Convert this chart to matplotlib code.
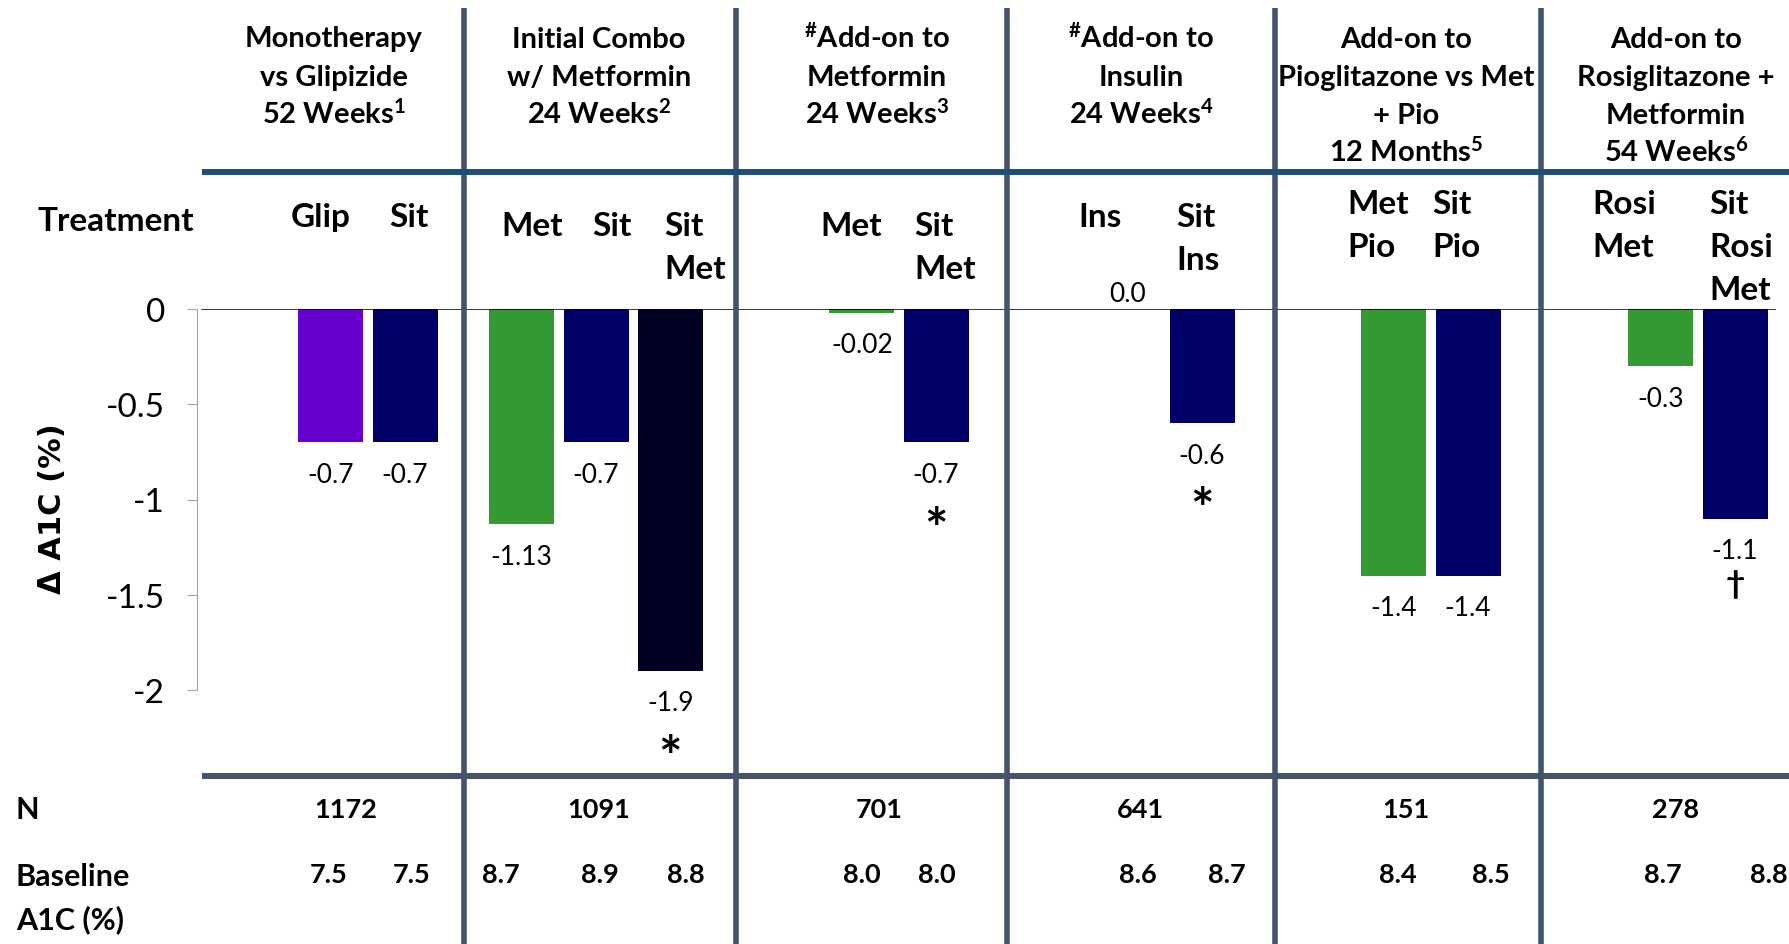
import matplotlib.pyplot as plt
import numpy as np

plt.rcParams['font.family'] = ['Lato', 'DejaVu Sans']
plt.rcParams['mathtext.fontset'] = 'custom'
plt.rcParams['mathtext.rm'] = 'Lato:bold'
plt.rcParams['mathtext.bf'] = 'Lato:bold'
plt.rcParams['mathtext.default'] = 'rm'

# study columns
study_titles = [
    'Monotherapy\nvs Glipizide\n52 Weeks$^{1}$',
    'Initial Combo\nw/ Metformin\n24 Weeks$^{2}$',
    '$^{\\#}$Add-on to\nMetformin\n24 Weeks$^{3}$',
    '$^{\\#}$Add-on to\nInsulin\n24 Weeks$^{4}$',
    'Add-on to\nPioglitazone vs Met\n+ Pio\n12 Months$^{5}$',
    'Add-on to\nRosiglitazone +\nMetformin\n54 Weeks$^{6}$',
]
treatments = [
    ['Glip', 'Sit'],
    ['Met', 'Sit', 'Sit\nMet'],
    ['Met', 'Sit\nMet'],
    ['Ins', 'Sit\nIns'],
    ['Met\nPio', 'Sit\nPio'],
    ['Rosi\nMet', 'Sit\nRosi\nMet'],
]
a1c_change = [
    [-0.7, -0.7],
    [-1.13, -0.7, -1.9],
    [-0.02, -0.7],
    [0.0, -0.6],
    [-1.4, -1.4],
    [-0.3, -1.1],
]
significance = [
    ['', ''],
    ['', '', '*'],
    ['', '*'],
    ['', '*'],
    ['', ''],
    ['', '\u2020'],
]
n_patients = [1172, 1091, 701, 641, 151, 278]
baseline_a1c = [
    [7.5, 7.5],
    [8.7, 8.9, 8.8],
    [8.0, 8.0],
    [8.6, 8.7],
    [8.4, 8.5],
    [8.7, 8.8],
]

purple = '#6600CC'
navy = '#000066'
green = '#339933'
black = '#000022'
bar_colors = [
    [purple, navy],
    [green, navy, black],
    [green, navy],
    [green, navy],
    [green, navy],
    [green, navy],
]

# layout, in pixels of the 1790x945 canvas
W, H = 1790, 945
group_centers = [368, 596, 899, 1165, 1431, 1698]
bar_pitch = 74.2
bar_width = 65
separators = [464.5, 736, 1007, 1275, 1541]
title_x = [334, 599, 877, 1141, 1406, 1676]
n_x = [346, 599, 879, 1141, 1406, 1676]
treat_x = [[291, 389], [501, 592, 664], [820, 914], [1078, 1176],
           [1347, 1432], [1592, 1709]]
treat_base = [227, 236, 236, 227, 214, 214]
base_x = [[329, 412], [501, 600, 686], [862, 937], [1138, 1227],
          [1398, 1491], [1663, 1769]]
zero_y, bottom_y = 310, 778
px_per_unit = 190.5
line_gray = '#44546A'
line_blue = '#1F4E79'
# symbol: (size, offset below bar end in points)
mark_style = {'*': (40, -63.5), '\u2020': (24, -47)}

fig = plt.figure(figsize=(W / 100, H / 100), dpi=100)

ax = fig.add_axes([197 / W, 1 - bottom_y / H, (1776 - 197) / W,
                   (bottom_y - zero_y) / H])
ax.set_xlim(197, 1776)
ax.set_ylim(-(bottom_y - zero_y) / px_per_unit, 0)

for g, vals in enumerate(a1c_change):
    n = len(vals)
    for i, v in enumerate(vals):
        x = group_centers[g] + (i - (n - 1) / 2) * bar_pitch
        ax.bar(x, v, width=bar_width, color=bar_colors[g][i], zorder=2)
        label = '{:.2f}'.format(v)
        if label.endswith('0'):
            label = label[:-1]
        if v < 0:
            ax.annotate(label, (x, v), xytext=(0, -23), textcoords='offset points',
                        ha='center', va='center', fontsize=19)
        else:
            ax.annotate(label, (x, v), xytext=(0, 11), textcoords='offset points',
                        ha='center', va='center', fontsize=19)
        mark = significance[g][i]
        if mark:
            size, dy = mark_style[mark]
            ax.annotate(mark, (x, v), xytext=(0, dy),
                        textcoords='offset points', ha='center', va='center',
                        fontsize=size, fontweight='bold')

ax.axhline(0, xmin=5 / 1579, color='black', lw=1.1, zorder=3)
for side in ['top', 'right', 'bottom']:
    ax.spines[side].set_visible(False)
ax.spines['left'].set_bounds(-2, 0)
ax.spines['left'].set_color('#A6A6A6')
ax.set_xticks([])
ax.set_yticks([0, -0.5, -1, -1.5, -2])
ax.set_yticklabels(['0', '-0.5', '-1', '-1.5', '-2'])
ax.tick_params(axis='y', direction='out', length=7, color='#A6A6A6',
               labelsize=24, pad=16)
ax.patch.set_visible(False)

# table lines and text drawn on a pixel overlay
ov = fig.add_axes([0, 0, 1, 1])
ov.set_xlim(0, W)
ov.set_ylim(H, 0)
ov.axis('off')


def stacked_text(x, y, text, pitch, **kw):
    # one text per line so lines with superscripts keep an even pitch
    for k, line in enumerate(text.split('\n')):
        ov.text(x, y + k * pitch, line, va='baseline', fontweight='bold', **kw)


for sx in separators:
    ov.plot([sx, sx], [9, H], color=line_gray, lw=4, solid_capstyle='butt')
ov.plot([202, W], [172.5, 172.5], color=line_blue, lw=4.3, solid_capstyle='butt')
ov.plot([202, W], [777, 777], color=line_gray, lw=4.3, solid_capstyle='butt')

for g, title in enumerate(study_titles):
    stacked_text(title_x[g], 47.5, title, 38.2, ha='center', fontsize=21)
    for i, t in enumerate(treatments[g]):
        stacked_text(treat_x[g][i], treat_base[g], t, 42.8, ha='left', fontsize=24)
    ov.text(n_x[g], 818, str(n_patients[g]), ha='center', va='baseline',
            fontsize=19.5, fontweight='bold')
    for i, b in enumerate(baseline_a1c[g]):
        ov.text(base_x[g][i], 883, '{:.1f}'.format(b), ha='center', va='baseline',
                fontsize=19.5, fontweight='bold')

stacked_text(38, 231, 'Treatment', 0, ha='left', fontsize=24)
stacked_text(16, 819, 'N', 0, ha='left', fontsize=22)
stacked_text(16, 886, 'Baseline\nA1C (%)', 43.4, ha='left', fontsize=22)
ov.text(53, 509, '\u0394 A1C (%)', rotation=90, ha='center', va='center',
        fontsize=22, fontweight='bold', family='DejaVu Sans')

fig.savefig('out.png', dpi=100)
